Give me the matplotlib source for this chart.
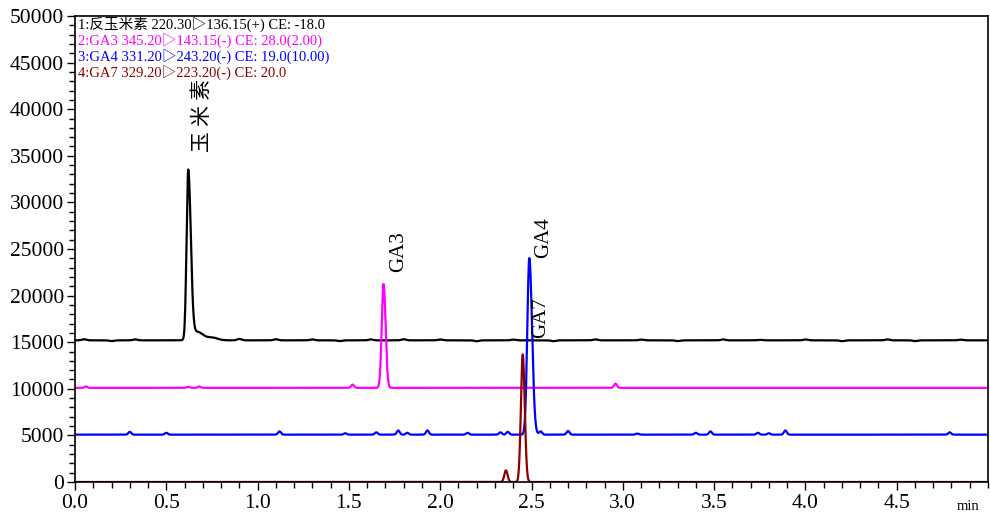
import numpy as np
import matplotlib
matplotlib.use("Agg")
import matplotlib.pyplot as plt
from matplotlib.ticker import MultipleLocator, FixedLocator, FormatStrFormatter

plt.rcParams['font.family'] = ['Liberation Serif', 'Noto Sans CJK SC', 'DejaVu Sans']

# traces: name, colour, baseline, peaks (time, height above baseline, sigma left, sigma right)
labels = ['1:反玉米素 220.30▷136.15(+) CE: -18.0',
          '2:GA3 345.20▷143.15(-) CE: 28.0(2.00)',
          '3:GA4 331.20▷243.20(-) CE: 19.0(10.00)',
          '4:GA7 329.20▷223.20(-) CE: 20.0']
colors = ['#000000', '#ff00ff', '#0000ff', '#8b0000']
baselines = [15200, 10100, 5080, 0]

# main peaks
peak_t = [0.62, 1.69, 2.488, 2.452]
peak_h = [18100, 11150, 18950, 13700]
peak_sl = [0.009, 0.010, 0.011, 0.010]
peak_sr = [0.014, 0.011, 0.015, 0.011]

# small bumps
zea_bump_t = [0.67, 0.75, 0.05, 0.20, 0.33, 0.90, 1.10, 1.30, 1.45, 1.62, 1.80, 2.00, 2.20,
              2.40, 2.62, 2.85, 3.10, 3.30, 3.55, 3.75, 4.00, 4.20, 4.45, 4.60, 4.85]
zea_bump_h = [900, 300, 120, -80, 100, 150, 120, 100, -80, 100, 120, 90, -100,
              80, -90, 100, 80, -80, 100, 60, 90, -90, 100, -80, 70]
ga3_bump_t = [0.06, 0.62, 0.68, 1.52, 2.96]
ga3_bump_h = [150, 120, 150, 350, 450]
ga4_bump_t = [0.30, 0.50, 1.12, 1.48, 1.65, 1.77, 1.82, 1.93, 2.15, 2.33, 2.37,
              2.55, 2.70, 3.08, 3.40, 3.48, 3.74, 3.80, 3.89, 4.79]
ga4_bump_h = [300, 200, 350, 150, 250, 450, 200, 450, 200, 250, 300,
              350, 400, 120, 200, 350, 200, 150, 450, 250]
ga7_bump_t = [2.36]
ga7_bump_h = [1250]

bump_t = [zea_bump_t, ga3_bump_t, ga4_bump_t, ga7_bump_t]
bump_h = [zea_bump_h, ga3_bump_h, ga4_bump_h, ga7_bump_h]
bump_w = [0.012, 0.008, 0.008, 0.009]

x_ticks = [0.0, 0.5, 1.0, 1.5, 2.0, 2.5, 3.0, 3.5, 4.0, 4.5]

t = np.linspace(0, 5, 3001)


def peak(t, c, h, sl, sr):
    s = np.where(t < c, sl, sr)
    return h * np.exp(-0.5 * ((t - c) / s) ** 2)


fig = plt.figure(figsize=(9.9, 5.13), dpi=100)
ax = fig.add_axes([75 / 990, 31 / 513, 913 / 990, 466 / 513])

for i in range(4):
    y = np.full_like(t, baselines[i], dtype=float)
    y += peak(t, peak_t[i], peak_h[i], peak_sl[i], peak_sr[i])
    for bt, bh in zip(bump_t[i], bump_h[i]):
        w = 0.03 if (i == 0 and bt in (0.67, 0.75)) else bump_w[i]
        y += peak(t, bt, bh, w, w)
    ax.plot(t, y, color=colors[i], lw=1.6, zorder=2)

ax.set_xlim(0, 5.0)
ax.set_ylim(0, 50000)
ax.xaxis.set_major_locator(FixedLocator(x_ticks))
ax.xaxis.set_minor_locator(MultipleLocator(0.1))
ax.yaxis.set_major_locator(MultipleLocator(5000))
ax.yaxis.set_minor_locator(MultipleLocator(1000))
ax.xaxis.set_major_formatter(FormatStrFormatter('%.1f'))
ax.tick_params(which='major', direction='out', length=6, width=1, labelsize=15.5)
ax.tick_params(which='minor', direction='out', length=4, width=1)
ax.tick_params(axis='x', pad=3)
ax.tick_params(axis='y', pad=2)
for sp in ax.spines.values():
    sp.set_linewidth(1.2)
    sp.set_zorder(3)

# channel headers
for i in range(4):
    ax.text(0.003, (482 - (24 + 16 * i)) / 466, labels[i], color=colors[i],
            transform=ax.transAxes, fontsize=10.5, va='center', ha='left')

# peak labels
ax.text(0.70, 35400, '玉 米 素', rotation=90, fontsize=15, ha='center', va='bottom')
ax.text(1.77, 22500, 'GA3', rotation=90, fontsize=15, ha='center', va='bottom')
ax.text(2.565, 24000, 'GA4', rotation=90, fontsize=15, ha='center', va='bottom')
ax.text(2.55, 15450, 'GA7', rotation=90, fontsize=15, ha='center', va='bottom')

fig.text(968 / 990, 1 - 507 / 513, 'min', fontsize=10.5, ha='center', va='center')

fig.savefig('out.png', dpi=100)
